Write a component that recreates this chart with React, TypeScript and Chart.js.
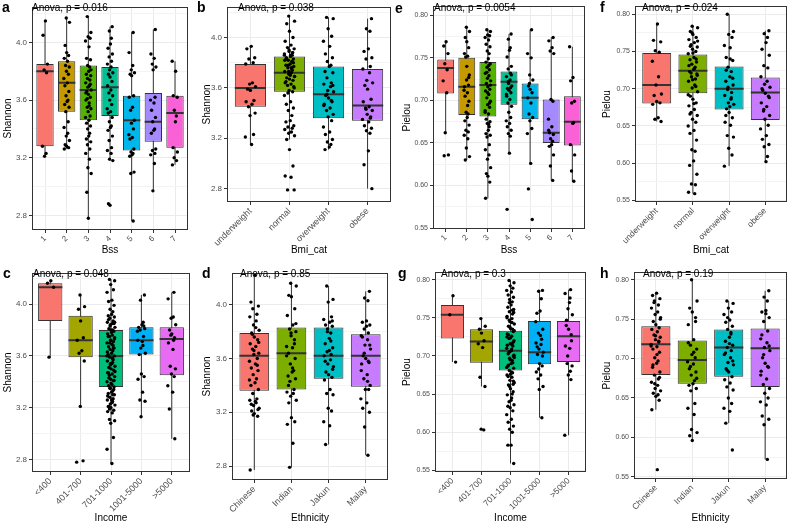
import React, { useEffect, useRef } from 'react';
import { Chart, registerables } from 'chart.js';
Chart.register(...registerables);

// ---------- categories ----------
const BSS = ['1', '2', '3', '4', '5', '6', '7'];
const BMI = ['underweight', 'normal', 'overweight', 'obese'];
const INCOME = ['<400', '401-700', '701-1000', '1001-5000', '>5000'];
const ETHNICITY = ['Chinese', 'Indian', 'Jakun', 'Malay'];

const COLORS7 = ['#F8766D', '#C49A00', '#53B400', '#00C094', '#00B6EB', '#A58AFF', '#FB61D7'];
const COLORS4 = ['#F8766D', '#7CAE00', '#00BFC4', '#C77CFF'];
const COLORS5 = ['#F8766D', '#A3A500', '#00BF7D', '#00B0F6', '#E76BF3'];

// ---------- tick values ----------
const SHANNON_TICKS = [2.8, 3.0, 3.2, 3.4, 3.6, 3.8, 4.0, 4.2];
const SHANNON_LABELED = [2.8, 3.2, 3.6, 4.0];
const PIELOU_TICKS = [0.55, 0.575, 0.6, 0.625, 0.65, 0.675, 0.7, 0.725, 0.75, 0.775, 0.8];
const PIELOU_LABELED = [0.55, 0.6, 0.65, 0.7, 0.75, 0.8];

// fixed jitter offsets (category units)
const JITTER = [0.02, -0.09, 0.11, -0.04, 0.07, -0.12, 0.05, -0.02, 0.13, -0.07, 0.0, 0.09, -0.11, 0.04, -0.05, 0.12, -0.01, 0.08, -0.13, 0.03, -0.08, 0.1, -0.03, 0.06];

// ---------- panel a: Shannon ~ Bss ----------
const A_LO = [3.21, 3.26, 2.78, 3.18, 2.76, 2.97, 3.15];
const A_Q1 = [3.28, 3.52, 3.46, 3.49, 3.25, 3.31, 3.27];
const A_MED = [3.80, 3.72, 3.67, 3.69, 3.46, 3.45, 3.51];
const A_Q3 = [3.85, 3.87, 3.84, 3.83, 3.63, 3.65, 3.63];
const A_HI = [4.15, 4.17, 4.18, 4.11, 4.07, 4.09, 3.87];
const A_POINTS = [
  [4.15, 4.05, 3.85, 3.81, 3.79, 3.28, 3.23, 3.21],
  [4.17, 4.14, 3.98, 3.93, 3.91, 3.89, 3.87, 3.84, 3.83, 3.80, 3.78, 3.75, 3.72, 3.70, 3.66, 3.63, 3.60, 3.59, 3.57, 3.55, 3.52, 3.45, 3.41, 3.37, 3.35, 3.32, 3.29, 3.28, 3.27, 3.26],
  [4.18, 4.07, 4.04, 4.03, 4.01, 3.97, 3.89, 3.88, 3.84, 3.83, 3.80, 3.78, 3.77, 3.75, 3.74, 3.72, 3.70, 3.69, 3.67, 3.66, 3.64, 3.62, 3.60, 3.58, 3.55, 3.54, 3.52, 3.49, 3.48, 3.46, 3.44, 3.42, 3.40, 3.37, 3.35, 3.33, 3.31, 3.29, 3.26, 3.23, 3.19, 3.13, 3.09, 2.96, 2.78, 3.71, 3.65, 3.56, 3.61, 3.81],
  [4.11, 4.08, 4.03, 3.99, 3.96, 3.92, 3.90, 3.87, 3.85, 3.83, 3.81, 3.79, 3.78, 3.76, 3.73, 3.70, 3.67, 3.65, 3.63, 3.60, 3.57, 3.54, 3.52, 3.51, 3.48, 3.45, 3.42, 3.41, 3.39, 3.35, 3.32, 3.27, 3.25, 3.23, 3.19, 3.18, 2.88, 2.87],
  [4.07, 3.93, 3.84, 3.81, 3.79, 3.78, 3.77, 3.63, 3.62, 3.55, 3.53, 3.46, 3.44, 3.40, 3.36, 3.34, 3.33, 3.26, 3.24, 3.23, 3.22, 3.21, 3.10, 3.09, 2.76],
  [4.09, 3.92, 3.89, 3.85, 3.83, 3.81, 3.62, 3.60, 3.58, 3.53, 3.48, 3.45, 3.40, 3.39, 3.37, 3.26, 3.25, 3.23, 3.22, 3.16, 2.97],
  [3.87, 3.80, 3.63, 3.62, 3.53, 3.49, 3.45, 3.27, 3.24, 3.20, 3.18, 3.15],
];

// ---------- panel b: Shannon ~ Bmi_cat ----------
const B_LO = [3.15, 3.19, 3.11, 2.80];
const B_Q1 = [3.45, 3.57, 3.36, 3.34];
const B_MED = [3.60, 3.72, 3.55, 3.46];
const B_Q3 = [3.79, 3.85, 3.77, 3.75];
const B_HI = [3.93, 4.17, 4.16, 4.15];
const B_POINTS = [
  [3.93, 3.91, 3.84, 3.83, 3.80, 3.79, 3.64, 3.63, 3.61, 3.59, 3.58, 3.50, 3.49, 3.47, 3.45, 3.40, 3.38, 3.23, 3.21, 3.15],
  [4.17, 4.13, 4.11, 4.05, 4.00, 3.97, 3.94, 3.92, 3.91, 3.89, 3.88, 3.87, 3.86, 3.84, 3.83, 3.82, 3.81, 3.79, 3.78, 3.77, 3.76, 3.74, 3.73, 3.72, 3.71, 3.69, 3.68, 3.67, 3.66, 3.64, 3.63, 3.62, 3.60, 3.58, 3.57, 3.54, 3.49, 3.47, 3.44, 3.42, 3.38, 3.34, 3.33, 3.30, 3.29, 3.28, 3.27, 3.25, 3.24, 3.22, 3.19, 3.11, 2.98, 2.90, 2.89, 2.79, 2.79, 3.90, 3.88, 3.86, 3.85, 3.83, 3.80, 3.78, 3.75, 3.70, 3.65, 3.61, 3.56, 3.86, 3.82, 3.76, 3.73, 3.69],
  [4.16, 4.15, 4.07, 4.01, 3.97, 3.93, 3.87, 3.84, 3.81, 3.78, 3.77, 3.73, 3.72, 3.68, 3.64, 3.63, 3.61, 3.58, 3.57, 3.54, 3.52, 3.49, 3.47, 3.44, 3.42, 3.39, 3.37, 3.34, 3.29, 3.25, 3.23, 3.19, 3.17, 3.15, 3.13, 3.11, 3.62, 3.55, 3.50, 3.46],
  [4.15, 4.07, 4.05, 3.91, 3.89, 3.84, 3.83, 3.77, 3.75, 3.72, 3.66, 3.64, 3.62, 3.59, 3.51, 3.49, 3.45, 3.44, 3.42, 3.39, 3.37, 3.35, 3.33, 3.30, 3.28, 3.26, 3.24, 3.10, 2.99, 2.80, 3.43, 3.36],
];

// ---------- panel e: Pielou ~ Bss ----------
const E_LO = [0.662, 0.630, 0.585, 0.638, 0.626, 0.606, 0.605];
const E_Q1 = [0.708, 0.683, 0.681, 0.695, 0.678, 0.650, 0.647];
const E_MED = [0.738, 0.716, 0.718, 0.722, 0.703, 0.662, 0.675];
const E_Q3 = [0.748, 0.750, 0.745, 0.734, 0.720, 0.701, 0.705];
const E_HI = [0.769, 0.786, 0.783, 0.778, 0.783, 0.774, 0.763];
const E_POINTS = [
  [0.769, 0.764, 0.755, 0.743, 0.736, 0.723, 0.709, 0.662, 0.636, 0.635],
  [0.786, 0.781, 0.774, 0.769, 0.762, 0.755, 0.752, 0.751, 0.730, 0.724, 0.718, 0.712, 0.709, 0.705, 0.699, 0.686, 0.684, 0.680, 0.676, 0.671, 0.665, 0.663, 0.659, 0.655, 0.644, 0.634, 0.630, 0.740, 0.727, 0.716, 0.694],
  [0.783, 0.781, 0.777, 0.776, 0.774, 0.771, 0.766, 0.763, 0.758, 0.755, 0.749, 0.745, 0.743, 0.739, 0.736, 0.732, 0.729, 0.726, 0.723, 0.720, 0.716, 0.713, 0.711, 0.707, 0.703, 0.699, 0.695, 0.692, 0.688, 0.684, 0.678, 0.675, 0.673, 0.669, 0.665, 0.661, 0.659, 0.657, 0.648, 0.642, 0.636, 0.631, 0.621, 0.614, 0.611, 0.604, 0.585, 0.741, 0.733, 0.718, 0.709, 0.697, 0.686, 0.672],
  [0.778, 0.772, 0.762, 0.759, 0.751, 0.740, 0.737, 0.732, 0.728, 0.724, 0.720, 0.717, 0.714, 0.712, 0.709, 0.705, 0.701, 0.697, 0.693, 0.686, 0.680, 0.676, 0.673, 0.669, 0.665, 0.661, 0.658, 0.638, 0.572, 0.730, 0.722, 0.715, 0.707],
  [0.783, 0.755, 0.750, 0.730, 0.724, 0.717, 0.713, 0.709, 0.703, 0.697, 0.684, 0.680, 0.676, 0.667, 0.661, 0.626, 0.596, 0.560, 0.720],
  [0.774, 0.770, 0.762, 0.758, 0.755, 0.701, 0.699, 0.678, 0.669, 0.662, 0.660, 0.655, 0.652, 0.648, 0.646, 0.636, 0.623, 0.606, 0.665],
  [0.763, 0.727, 0.723, 0.699, 0.697, 0.674, 0.673, 0.648, 0.636, 0.617, 0.605],
];

// ---------- panel f: Pielou ~ Bmi_cat ----------
const F_LO = [0.656, 0.559, 0.596, 0.602];
const F_Q1 = [0.680, 0.694, 0.672, 0.658];
const F_MED = [0.705, 0.724, 0.700, 0.695];
const F_Q3 = [0.748, 0.746, 0.730, 0.715];
const F_HI = [0.787, 0.784, 0.800, 0.778];
const F_POINTS = [
  [0.787, 0.765, 0.763, 0.751, 0.749, 0.737, 0.716, 0.705, 0.693, 0.691, 0.683, 0.681, 0.679, 0.661, 0.659, 0.656],
  [0.784, 0.782, 0.777, 0.773, 0.769, 0.766, 0.762, 0.759, 0.756, 0.753, 0.750, 0.747, 0.742, 0.739, 0.736, 0.733, 0.729, 0.726, 0.723, 0.720, 0.716, 0.713, 0.710, 0.705, 0.701, 0.696, 0.690, 0.686, 0.681, 0.677, 0.672, 0.668, 0.664, 0.659, 0.655, 0.650, 0.644, 0.640, 0.631, 0.618, 0.616, 0.603, 0.597, 0.585, 0.572, 0.571, 0.561, 0.559, 0.775, 0.764, 0.757, 0.748, 0.740, 0.731, 0.727, 0.721, 0.718, 0.712, 0.703, 0.692, 0.680, 0.666],
  [0.800, 0.777, 0.773, 0.769, 0.758, 0.755, 0.742, 0.738, 0.729, 0.723, 0.716, 0.710, 0.705, 0.699, 0.695, 0.691, 0.686, 0.681, 0.679, 0.673, 0.668, 0.661, 0.655, 0.651, 0.637, 0.635, 0.620, 0.611, 0.596, 0.740, 0.725, 0.714, 0.702, 0.688, 0.676, 0.664],
  [0.778, 0.774, 0.769, 0.762, 0.753, 0.745, 0.731, 0.728, 0.716, 0.710, 0.706, 0.702, 0.698, 0.694, 0.690, 0.681, 0.676, 0.670, 0.664, 0.659, 0.651, 0.646, 0.637, 0.632, 0.625, 0.622, 0.609, 0.602, 0.700, 0.688, 0.672],
];

// ---------- panel c: Shannon ~ Income ----------
const C_LO = [3.59, 3.21, 2.77, 3.13, 2.96];
const C_Q1 = [3.87, 3.59, 3.36, 3.61, 3.45];
const C_MED = [4.13, 3.72, 3.60, 3.72, 3.73];
const C_Q3 = [4.16, 3.91, 3.80, 3.82, 3.82];
const C_HI = [4.18, 4.07, 4.19, 4.07, 4.09];
const C_POINTS = [
  [4.18, 4.16, 4.13, 3.59],
  [4.07, 3.98, 3.96, 3.87, 3.74, 3.72, 3.64, 3.62, 3.56, 3.21, 2.79, 2.78],
  [4.19, 4.18, 4.15, 4.11, 4.09, 4.03, 4.02, 3.99, 3.96, 3.94, 3.92, 3.91, 3.90, 3.89, 3.87, 3.86, 3.85, 3.84, 3.82, 3.81, 3.80, 3.79, 3.77, 3.76, 3.75, 3.74, 3.72, 3.71, 3.70, 3.69, 3.67, 3.66, 3.65, 3.64, 3.62, 3.61, 3.60, 3.59, 3.57, 3.56, 3.55, 3.54, 3.52, 3.51, 3.50, 3.49, 3.47, 3.46, 3.45, 3.44, 3.42, 3.41, 3.40, 3.38, 3.37, 3.36, 3.35, 3.33, 3.32, 3.31, 3.30, 3.28, 3.27, 3.26, 3.25, 3.23, 3.22, 3.21, 3.20, 3.18, 3.17, 3.16, 3.11, 3.10, 3.08, 2.97, 2.88, 2.77, 3.88, 3.85, 3.83, 3.80, 3.78, 3.75, 3.73, 3.70, 3.68, 3.63, 3.58, 3.53, 3.48, 3.43, 3.39, 3.34, 3.29, 3.24, 3.19, 3.86, 3.72, 3.66, 3.60, 3.54, 3.47, 3.41, 3.35, 3.30, 3.26, 3.21],
  [4.07, 4.03, 3.86, 3.84, 3.82, 3.81, 3.80, 3.75, 3.72, 3.68, 3.66, 3.62, 3.61, 3.46, 3.44, 3.42, 3.32, 3.26, 3.25, 3.13, 3.83, 3.79, 3.71],
  [4.09, 4.04, 3.90, 3.89, 3.84, 3.80, 3.77, 3.74, 3.70, 3.65, 3.52, 3.50, 3.46, 3.44, 3.37, 3.32, 3.19, 2.96, 3.76, 3.72],
];

// ---------- panel d: Shannon ~ Ethnicity ----------
const D_LO = [2.77, 2.79, 2.96, 2.88];
const D_Q1 = [3.36, 3.37, 3.45, 3.39];
const D_MED = [3.62, 3.64, 3.62, 3.62];
const D_Q3 = [3.79, 3.83, 3.83, 3.78];
const D_HI = [4.22, 4.16, 4.14, 4.10];
const D_POINTS = [
  [4.22, 4.02, 3.99, 3.97, 3.93, 3.91, 3.88, 3.85, 3.81, 3.79, 3.76, 3.74, 3.71, 3.69, 3.67, 3.64, 3.63, 3.60, 3.58, 3.56, 3.53, 3.51, 3.48, 3.45, 3.42, 3.40, 3.37, 3.34, 3.30, 3.29, 3.27, 3.25, 3.23, 3.21, 3.19, 3.17, 2.77, 3.83, 3.78, 3.72, 3.66, 3.55, 3.44, 3.28, 3.26, 3.22, 3.18],
  [4.16, 4.14, 4.07, 4.06, 3.97, 3.92, 3.85, 3.82, 3.80, 3.77, 3.74, 3.69, 3.68, 3.64, 3.60, 3.56, 3.51, 3.50, 3.47, 3.45, 3.43, 3.37, 3.35, 3.34, 3.32, 3.29, 3.27, 3.16, 3.13, 3.11, 2.97, 2.79, 3.86, 3.79, 3.71, 3.62, 3.53, 3.40],
  [4.14, 4.04, 4.02, 3.91, 3.89, 3.87, 3.85, 3.84, 3.82, 3.79, 3.75, 3.71, 3.68, 3.65, 3.63, 3.62, 3.59, 3.56, 3.54, 3.50, 3.48, 3.46, 3.44, 3.37, 3.34, 3.33, 3.23, 3.21, 3.13, 3.10, 2.96, 3.88, 3.80, 3.73, 3.66, 3.58, 3.52],
  [4.10, 4.05, 4.03, 3.88, 3.87, 3.85, 3.82, 3.79, 3.77, 3.74, 3.70, 3.67, 3.62, 3.60, 3.57, 3.56, 3.48, 3.45, 3.40, 3.37, 3.37, 3.30, 3.27, 3.23, 3.20, 3.09, 2.88, 3.84, 3.76, 3.70, 3.64, 3.58, 3.51, 3.43],
];

// ---------- panel g: Pielou ~ Income ----------
const G_LO = [0.692, 0.660, 0.559, 0.619, 0.596];
const G_Q1 = [0.723, 0.691, 0.681, 0.689, 0.692];
const G_MED = [0.754, 0.719, 0.707, 0.705, 0.726];
const G_Q3 = [0.767, 0.735, 0.733, 0.746, 0.746];
const G_HI = [0.779, 0.749, 0.799, 0.786, 0.787];
const G_POINTS = [
  [0.779, 0.754, 0.692],
  [0.749, 0.739, 0.735, 0.730, 0.720, 0.716, 0.711, 0.672, 0.660, 0.604, 0.603],
  [0.799, 0.796, 0.792, 0.789, 0.786, 0.784, 0.780, 0.777, 0.774, 0.771, 0.767, 0.764, 0.761, 0.758, 0.755, 0.752, 0.749, 0.745, 0.742, 0.739, 0.736, 0.732, 0.729, 0.726, 0.723, 0.720, 0.716, 0.713, 0.710, 0.707, 0.703, 0.700, 0.697, 0.694, 0.690, 0.687, 0.684, 0.681, 0.678, 0.675, 0.672, 0.668, 0.665, 0.662, 0.657, 0.653, 0.649, 0.645, 0.640, 0.636, 0.632, 0.628, 0.623, 0.617, 0.613, 0.608, 0.604, 0.600, 0.583, 0.583, 0.559, 0.770, 0.760, 0.750, 0.744, 0.738, 0.733, 0.728, 0.724, 0.718, 0.714, 0.709, 0.705, 0.701, 0.695, 0.691, 0.685, 0.679, 0.673, 0.667, 0.660, 0.650, 0.642, 0.634, 0.757, 0.747, 0.735, 0.725, 0.715, 0.706, 0.698, 0.688, 0.676, 0.663],
  [0.786, 0.785, 0.775, 0.759, 0.756, 0.735, 0.730, 0.722, 0.717, 0.715, 0.709, 0.705, 0.702, 0.690, 0.687, 0.679, 0.675, 0.670, 0.660, 0.656, 0.619, 0.745, 0.727, 0.712, 0.700, 0.683],
  [0.787, 0.782, 0.776, 0.762, 0.754, 0.747, 0.735, 0.728, 0.713, 0.710, 0.690, 0.687, 0.675, 0.669, 0.596, 0.770, 0.740, 0.720, 0.700, 0.680],
];

// ---------- panel h: Pielou ~ Ethnicity ----------
const H_LO = [0.635, 0.596, 0.618, 0.572];
const H_Q1 = [0.679, 0.668, 0.677, 0.664];
const H_MED = [0.718, 0.698, 0.714, 0.713];
const H_Q3 = [0.741, 0.723, 0.737, 0.738];
const H_HI = [0.783, 0.800, 0.773, 0.786];
const H_POINTS = [
  [0.783, 0.780, 0.776, 0.773, 0.768, 0.764, 0.759, 0.756, 0.752, 0.747, 0.743, 0.739, 0.737, 0.734, 0.730, 0.727, 0.724, 0.721, 0.718, 0.715, 0.712, 0.708, 0.701, 0.697, 0.694, 0.689, 0.683, 0.679, 0.674, 0.670, 0.666, 0.662, 0.659, 0.656, 0.652, 0.647, 0.635, 0.559, 0.771, 0.750, 0.729, 0.722, 0.716, 0.705, 0.692, 0.676, 0.668, 0.654],
  [0.800, 0.773, 0.764, 0.759, 0.752, 0.743, 0.724, 0.717, 0.712, 0.705, 0.701, 0.696, 0.693, 0.687, 0.683, 0.679, 0.672, 0.668, 0.666, 0.662, 0.659, 0.643, 0.637, 0.629, 0.610, 0.606, 0.602, 0.596, 0.747, 0.720, 0.708, 0.690, 0.675],
  [0.773, 0.770, 0.764, 0.759, 0.756, 0.749, 0.746, 0.741, 0.737, 0.731, 0.727, 0.722, 0.717, 0.714, 0.710, 0.705, 0.701, 0.695, 0.692, 0.687, 0.683, 0.677, 0.673, 0.669, 0.664, 0.660, 0.650, 0.643, 0.637, 0.633, 0.618, 0.584, 0.752, 0.733, 0.719, 0.707, 0.697, 0.685],
  [0.786, 0.778, 0.773, 0.761, 0.759, 0.752, 0.747, 0.735, 0.725, 0.720, 0.714, 0.710, 0.701, 0.694, 0.689, 0.684, 0.674, 0.667, 0.662, 0.656, 0.650, 0.645, 0.641, 0.627, 0.623, 0.616, 0.572, 0.757, 0.730, 0.716, 0.705, 0.690, 0.679],
];

// ---------- panel table (built from the arrays above + layout) ----------
const PANELS = [
  { key: 'a', labels: BSS, colors: COLORS7, lo: A_LO, q1: A_Q1, med: A_MED, q3: A_Q3, hi: A_HI, points: A_POINTS, shannon: true, ymin: 2.698, ymax: 4.248, xTitle: 'Bss', anova: 'Anova, p = 0.016', box: [2, 0, 192, 256], yw: 30, xh: 26, pt: 1, pr: 2, xTick: 8, letter: [2, 0], text: [32, 2.5] },
  { key: 'b', labels: BMI, colors: COLORS4, lo: B_LO, q1: B_Q1, med: B_MED, q3: B_Q3, hi: B_HI, points: B_POINTS, shannon: true, ymin: 2.694, ymax: 4.244, xTitle: 'Bmi_cat', anova: 'Anova, p = 0.038', box: [201, 0, 395, 256], yw: 26, xh: 54, pt: 1, pr: 2, xTick: 9, letter: [197, 0], text: [238, 2.5] },
  { key: 'e', labels: BSS, colors: COLORS7, lo: E_LO, q1: E_Q1, med: E_MED, q3: E_Q3, hi: E_HI, points: E_POINTS, shannon: false, ymin: 0.5489, ymax: 0.8107, xTitle: 'Bss', anova: 'Anova, p = 0.0054', box: [401, 0, 589, 256], yw: 32, xh: 27, pt: 1, pr: 2, xTick: 8, letter: [395, 1], text: [434, 2.5] },
  { key: 'f', labels: BMI, colors: COLORS4, lo: F_LO, q1: F_Q1, med: F_MED, q3: F_Q3, hi: F_HI, points: F_POINTS, shannon: false, ymin: 0.5478, ymax: 0.8109, xTitle: 'Bmi_cat', anova: 'Anova, p = 0.024', box: [601, 0, 791, 256], yw: 34, xh: 54, pt: 1, pr: 2, xTick: 8.5, letter: [600, 0], text: [642, 2.5] },
  { key: 'c', labels: INCOME, colors: COLORS5, lo: C_LO, q1: C_Q1, med: C_MED, q3: C_Q3, hi: C_HI, points: C_POINTS, shannon: true, ymin: 2.704, ymax: 4.241, xTitle: 'Income', anova: 'Anova, p = 0.048', box: [2, 266, 194, 524], yw: 30, xh: 52, pt: 2, pr: 2, xTick: 9, letter: [3, 266], text: [33, 269] },
  { key: 'd', labels: ETHNICITY, colors: COLORS4, lo: D_LO, q1: D_Q1, med: D_MED, q3: D_Q3, hi: D_HI, points: D_POINTS, shannon: true, ymin: 2.696, ymax: 4.238, xTitle: 'Ethnicity', anova: 'Anova, p = 0.85', box: [201, 266, 392, 524], yw: 31, xh: 44, pt: 2, pr: 2, xTick: 9, letter: [202, 266], text: [240, 269] },
  { key: 'g', labels: INCOME, colors: COLORS5, lo: G_LO, q1: G_Q1, med: G_MED, q3: G_Q3, hi: G_HI, points: G_POINTS, shannon: false, ymin: 0.5478, ymax: 0.8099, xTitle: 'Income', anova: 'Anova, p = 0.3', box: [401, 266, 590, 524], yw: 34, xh: 52, pt: 2, pr: 2, xTick: 8.5, letter: [398, 266], text: [441, 269] },
  { key: 'h', labels: ETHNICITY, colors: COLORS4, lo: H_LO, q1: H_Q1, med: H_MED, q3: H_Q3, hi: H_HI, points: H_POINTS, shannon: false, ymin: 0.5471, ymax: 0.8096, xTitle: 'Ethnicity', anova: 'Anova, p = 0.19', box: [601, 266, 791, 524], yw: 33, xh: 45, pt: 2, pr: 2, xTick: 8.5, letter: [600, 266], text: [643, 269] },
];

const FONT = '"Liberation Sans", Arial, Helvetica, sans-serif';

const framePlugin = {
  id: 'panelFrame',
  afterDatasetsDraw(chart: any) {
    const { ctx, chartArea: a } = chart;
    ctx.save();
    ctx.strokeStyle = '#333333';
    ctx.lineWidth = 1;
    const l = Math.round(a.left), t = Math.round(a.top), r = Math.round(a.right), b = Math.round(a.bottom);
    ctx.strokeRect(l + 0.5, t + 0.5, r - l - 1, b - t - 1);
    ctx.restore();
  },
};

function Panel({ p }: { p: any }) {
  const ref = useRef<HTMLCanvasElement>(null);
  useEffect(() => {
    const canvas = ref.current;
    if (!canvas) return;
    const n = p.labels.length;
    const whisk: any[] = [];
    const med: any[] = [];
    const box: any[] = [];
    const pts: any[] = [];
    for (let i = 0; i < n; i++) {
      const x = i + 1;
      whisk.push({ x, y: p.lo[i] }, { x, y: p.hi[i] }, { x: x + 0.5, y: null });
      med.push({ x: x - 0.4, y: p.med[i] }, { x: x + 0.4, y: p.med[i] }, { x: x + 0.5, y: null });
      box.push({ x, y: [p.q1[i], p.q3[i]] });
      p.points[i].forEach((v: number, k: number) => {
        pts.push({ x: x + JITTER[(k + i * 7) % JITTER.length], y: v });
      });
    }
    const ticks = p.shannon ? SHANNON_TICKS : PIELOU_TICKS;
    const labeled = p.shannon ? SHANNON_LABELED : PIELOU_LABELED;
    const isMajor = (v: any) => typeof v === 'number' && labeled.some((l) => Math.abs(l - v) < 1e-6);

    const chart = new Chart(canvas, {
      type: 'bar',
      data: {
        datasets: [
          { type: 'line', data: whisk, borderColor: '#333333', borderWidth: 1, pointRadius: 0, fill: false, spanGaps: false, order: 4 } as any,
          { type: 'bar', data: box, backgroundColor: p.colors, borderColor: '#333333', borderWidth: 1, borderSkipped: false, barPercentage: 0.8, categoryPercentage: 1, order: 3 } as any,
          { type: 'line', data: med, borderColor: '#333333', borderWidth: 2, pointRadius: 0, fill: false, spanGaps: false, order: 2 } as any,
          { type: 'scatter', data: pts, backgroundColor: '#000000', borderWidth: 0, pointRadius: 1.7, order: 1 } as any,
        ],
      },
      options: {
        animation: false,
        responsive: false,
        devicePixelRatio: 1,
        events: [],
        layout: { padding: { top: p.pt, right: p.pr, left: 0, bottom: 0 } },
        plugins: { legend: { display: false }, tooltip: { enabled: false }, title: { display: false } },
        scales: {
          x: {
            type: 'linear',
            min: 0.4,
            max: n + 0.6,
            offset: false,
            afterBuildTicks: (s: any) => { s.ticks = p.labels.map((_: string, i: number) => ({ value: i + 1 })); },
            afterFit: (s: any) => { s.height = p.xh; },
            ticks: {
              autoSkip: false,
              minRotation: 45,
              maxRotation: 45,
              padding: 1,
              color: '#4D4D4D',
              font: { family: FONT, size: p.xTick },
              callback: (_v: any, i: number) => p.labels[i],
            },
            grid: { color: '#EBEBEB', lineWidth: 1, offset: false, drawTicks: true, tickLength: 3, tickColor: '#333333', tickWidth: 1 },
            border: { display: false },
            title: { display: true, text: p.xTitle, color: '#000000', font: { family: FONT, size: 10 }, padding: { top: 0, bottom: 0 } },
          },
          y: {
            type: 'linear',
            min: p.ymin,
            max: p.ymax,
            afterBuildTicks: (s: any) => { s.ticks = ticks.map((v) => ({ value: v })); },
            afterFit: (s: any) => { s.width = p.yw; },
            ticks: {
              autoSkip: false,
              padding: 2,
              color: '#4D4D4D',
              font: { family: FONT, size: p.shannon ? 8 : 7 },
              callback: (v: any) => (isMajor(v) ? Number(v).toFixed(p.shannon ? 1 : 2) : ''),
            },
            grid: {
              color: (c: any) => (isMajor(c.tick?.value) ? '#EBEBEB' : '#F4F4F4'),
              lineWidth: 1,
              drawTicks: true,
              tickLength: 3,
              tickWidth: 1,
              tickColor: (c: any) => (isMajor(c.tick?.value) ? '#333333' : 'rgba(0,0,0,0)'),
            },
            border: { display: false },
            title: { display: true, text: p.shannon ? 'Shannon' : 'Pielou', color: '#000000', font: { family: FONT, size: 10 }, padding: { top: 0, bottom: 0 } },
          },
        },
      } as any,
      plugins: [framePlugin],
    });
    return () => chart.destroy();
  }, [p]);

  const [l, t, r, b] = p.box;
  return (
    <>
      <canvas
        ref={ref}
        width={r - l}
        height={b - t}
        style={{ position: 'absolute', left: l, top: t, width: r - l, height: b - t }}
      />
      <span style={{ position: 'absolute', left: p.letter[0], top: p.letter[1], fontFamily: FONT, fontWeight: 'bold', fontSize: 14, lineHeight: 1, color: '#000' }}>{p.key}</span>
      <span style={{ position: 'absolute', left: p.text[0], top: p.text[1], fontFamily: FONT, fontSize: 10, lineHeight: 1, color: '#000', whiteSpace: 'nowrap' }}>{p.anova}</span>
    </>
  );
}

export default function App() {
  return (
    <div style={{ position: 'absolute', left: 0, top: 0, width: 792, height: 525, background: '#ffffff', overflow: 'hidden' }}>
      {PANELS.map((p) => (
        <Panel key={p.key} p={p} />
      ))}
    </div>
  );
}
